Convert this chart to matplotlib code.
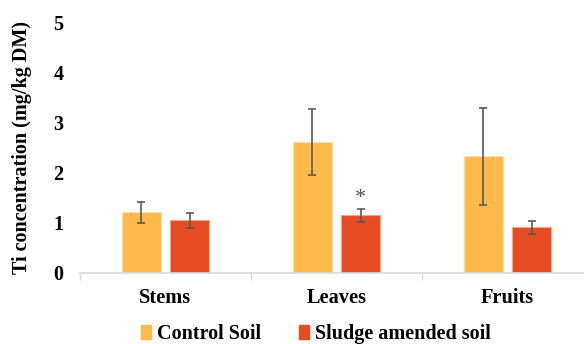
import matplotlib
matplotlib.use('Agg')
import matplotlib.pyplot as plt
from matplotlib.patches import Patch
import numpy as np

# Ti em caules, folhas e frutos (mg/kg DM)
partes = ['Stems', 'Leaves', 'Fruits']
controle = [1.21, 2.61, 2.32]
controle_err = [0.21, 0.66, 0.97]
lodo = [1.05, 1.15, 0.91]
lodo_err = [0.15, 0.13, 0.13]
marcas = ['', '*', '']

cor_controle = '#FDB94A'
cor_lodo = '#E64D23'

plt.rcParams['font.family'] = ['Liberation Serif', 'DejaVu Serif']
plt.rcParams['font.weight'] = 'bold'

fig = plt.figure(figsize=(5.84, 3.44), dpi=100)
ax = fig.add_axes([80 / 584, 71.3 / 344, 513 / 584, 250.7 / 344])

x = np.arange(len(partes))
larg = 0.228
desl = 0.143

ax.bar(x - desl, controle, larg, color=cor_controle, edgecolor='#FFE0A8', linewidth=0.8,
       yerr=controle_err, error_kw=dict(ecolor='#595959', elinewidth=1.2, capsize=2.6, capthick=1.2))
ax.bar(x + desl, lodo, larg, color=cor_lodo, edgecolor='#F5A58A', linewidth=0.8,
       yerr=lodo_err, error_kw=dict(ecolor='#595959', elinewidth=1.2, capsize=2.6, capthick=1.2))

# asterisco de significância acima da barra
for i, m in enumerate(marcas):
    if m:
        ax.text(x[i] + desl, lodo[i] + lodo_err[i] + 0.2, m, ha='center', va='center',
                fontsize=16, color='#505050', fontweight='normal')

ax.set_xlim(-0.5, 2.5)
ax.set_ylim(0, 5)
ax.set_yticks(range(6))
ax.set_xticks(x)
ax.set_xticklabels(partes, fontsize=14.7, fontweight='bold')
ax.set_xticks([-0.5, 0.5, 1.5, 2.5], minor=True)
ax.tick_params(axis='x', which='major', length=0, pad=11)
ax.tick_params(axis='x', which='minor', length=5, color='#D9D9D9', width=1)
ax.tick_params(axis='y', length=0, labelsize=14.5, pad=12)
for lab in ax.get_yticklabels():
    lab.set_fontweight('bold')

for lado in ['top', 'right', 'left']:
    ax.spines[lado].set_visible(False)
ax.spines['bottom'].set_color('#D9D9D9')
ax.spines['bottom'].set_linewidth(1.2)

ax.set_ylabel('Ti concentration (mg/kg DM)', fontsize=14.5, fontweight='bold')
ax.yaxis.set_label_coords(-0.094, 0.5)

handles = [Patch(color=cor_controle, label='Control Soil'),
           Patch(color=cor_lodo, label='Sludge amended soil')]
fig.legend(handles=handles, loc='center', bbox_to_anchor=(316 / 584, 10 / 344), ncol=2,
           frameon=False, prop=dict(size=14.5, weight='bold'), handlelength=0.5, handleheight=0.75,
           handletextpad=0.3, columnspacing=1.9, borderaxespad=0, borderpad=0)

fig.savefig('out.png', dpi=100)
